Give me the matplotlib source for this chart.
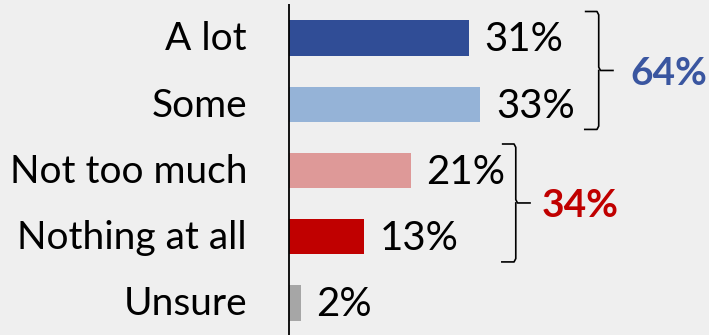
import matplotlib.pyplot as plt

categories = ["A lot", "Some", "Not too much", "Nothing at all", "Unsure"]
values = [31, 33, 21, 13, 2]
colors = ["#304d96", "#95b3d7", "#de9998", "#c00000", "#a6a6a6"]

# groups bracketed on the right: (first row, last row, colour)
groups = [(0, 1, "#3a56a0"), (2, 3, "#c00000")]
# bracket left edge and total label position, in percent units
bracket_x = [51.0, 36.7]
total_x = [58.8, 43.6]

plt.rcParams["font.family"] = ["Lato", "DejaVu Sans"]

bg = "#efefef"
fig = plt.figure(figsize=(7.09, 3.35), dpi=100, facecolor=bg)
ax = fig.add_axes([0, 0, 1, 1], facecolor=bg)

px = 5.8  # pixels per percent
row = 66.25  # pixels per row
ax.set_xlim(-289 / px, 420 / px)
ax.set_ylim(4 + 32 / row, -38 / row)
ax.axis("off")

ys = list(range(len(categories)))
ax.barh(ys, values, height=0.53, color=colors)
ax.vlines(0, -0.51, 4 + 32 / row, color="black", lw=1.3)

for y, cat, v in zip(ys, categories, values):
    ax.text(-42 / px, y + 0.02, cat, ha="right", va="center", fontsize=28)
    ax.text(v + 2.7, y + 0.03, f"{v}%", ha="left", va="center", fontsize=29)

for (first, last, col), x0, tx in zip(groups, bracket_x, total_x):
    top, bot = first - 0.4, last + 0.38
    mid = (top + bot) / 2
    x1 = x0 + 2.4
    ax.plot([x0, x1 - 0.3, x1, x1, x1 + 0.3, x1 + 2.6], [top, top, top + 0.05, mid - 0.05, mid, mid],
            color="black", lw=1.2, solid_capstyle="butt")
    ax.plot([x0, x1 - 0.3, x1, x1], [bot, bot, bot - 0.05, mid], color="black", lw=1.2)
    total = sum(values[first:last + 1])
    ax.text(tx, mid + 0.04, f"{total}%", ha="left", va="center",
            fontsize=28, fontweight="bold", color=col)

fig.savefig("out.png", dpi=100, facecolor=bg)
